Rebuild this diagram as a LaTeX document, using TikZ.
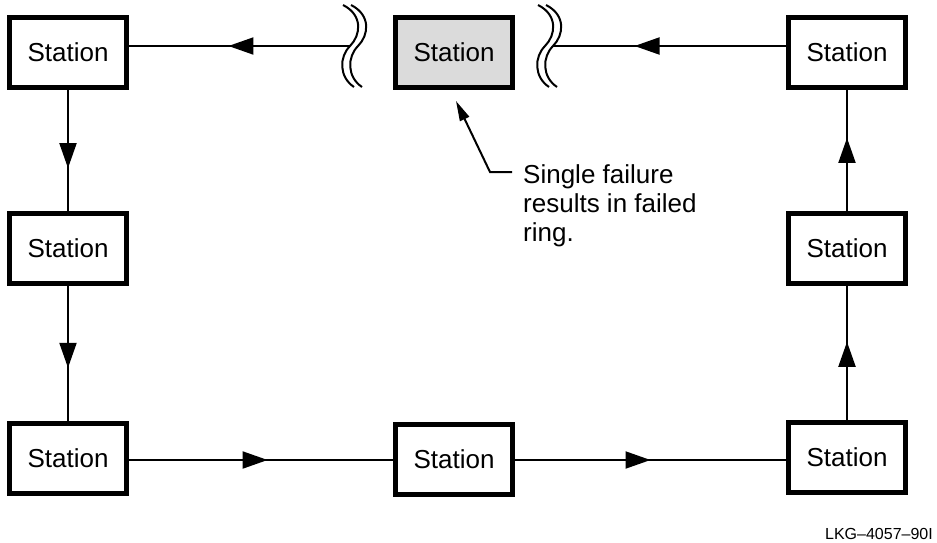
\documentclass[tikz,border=0pt]{standalone}
\usepackage{fontspec}
\setmainfont{Liberation Sans}
\usetikzlibrary{arrows.meta,decorations.markings}
\tikzset{
  station/.style={draw,line width=5pt,minimum width=117pt,minimum height=70pt,inner sep=0pt,
    font=\fontsize{26}{29}\selectfont},
  link/.style={line width=2pt},
  flowat/.style={link,postaction={decorate},decoration={markings,
    mark=at position #1 with {\arrow{Triangle[length=25pt,width=17pt]}}}},
  brk/.style={line width=2pt}
}
\begin{document}
\begin{tikzpicture}[x=1pt,y=-1pt]
\useasboundingbox (0,0) rectangle (937,542);
% stations
\node[station](tl) at (68,52) {Station};
\node[station](ml) at (68,248) {Station};
\node[station](bl) at (68,458) {Station};
\node[station](bm) at (454,459) {Station};
\node[station](br) at (847,457) {Station};
\node[station](mr) at (847,248) {Station};
\node[station](tr) at (847,52) {Station};
\node[station,fill=black!14](fail) at (454,52) {Station};
\coordinate (brkL) at (350,46);
\coordinate (brkR) at (553,46);
% ring
\draw[flowat=0.55] (brkL)--(tl.east|-brkL);
\draw[flowat=0.65] (tl)--(ml);
\draw[flowat=0.61] (ml)--(bl);
\draw[flowat=0.525] (bl.east|-0,460)--(bm.west|-0,460);
\draw[flowat=0.5] (bm.east|-0,460)--(br.west|-0,460);
\draw[flowat=0.58] (br)--(mr);
\draw[flowat=0.6] (mr)--(tr);
\draw[flowat=0.65] (tr.west|-brkR)--(brkR);
% breaks
\foreach \bx in {343,351,538,546}
  \draw[brk] (\bx,5) .. controls (\bx+20,15) and (\bx+18,35) .. (\bx+7,46)
    .. controls (\bx-4,57) and (\bx-4,77) .. (\bx+11,87);
% callout
\coordinate (elbow) at (490,172);
\node[anchor=north west,inner sep=0pt,align=left,font=\fontsize{26}{29}\selectfont](note)
  at (523,164) {Single failure\\results in failed\\ring.};
\draw[link,-{Triangle[length=20pt,width=10pt]}] (512,172)--(elbow)--(456,101);
\node[anchor=base east,inner sep=0pt,font=\fontsize{16}{18}\selectfont](ref) at (933,539) {LKG–4057–90I};
\end{tikzpicture}
\end{document}
